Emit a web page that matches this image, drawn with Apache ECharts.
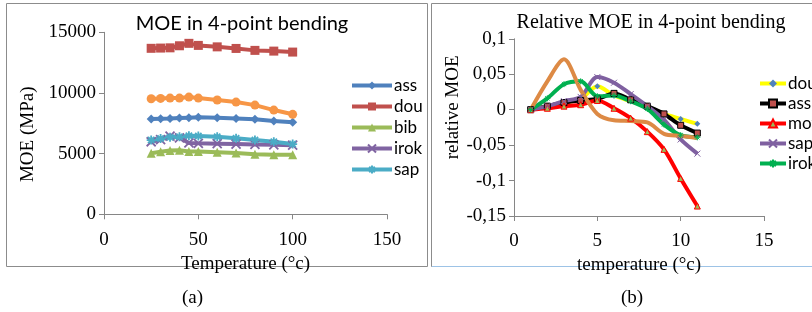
<!DOCTYPE html>
<html>
<head>
<meta charset="utf-8">
<script src="https://cdn.jsdelivr.net/npm/echarts@6/dist/echarts.min.js"></script>
<style>
  html, body { margin: 0; padding: 0; background: #fff; }
  #chart { width: 812px; height: 312px; }
</style>
</head>
<body>
<div id="chart"></div>
<script>
// (a) MOE vs temperature
const tempA = [25, 30, 35, 40, 45, 50, 60, 70, 80, 90, 100]
const assA = [7850, 7880, 7900, 7930, 7960, 7990, 7960, 7900, 7830, 7690, 7580]
const douA = [13680, 13700, 13720, 13890, 14090, 13920, 13800, 13670, 13510, 13450, 13370]
const bibA = [5030, 5150, 5250, 5280, 5180, 5180, 5120, 5050, 4950, 4900, 4900]
const irokA = [5980, 6150, 6450, 6300, 5880, 5850, 5820, 5790, 5760, 5730, 5700]
const sapA = [6120, 6250, 6350, 6390, 6470, 6450, 6390, 6260, 6120, 5980, 5790]
const movA = [9520, 9550, 9580, 9580, 9660, 9580, 9420, 9250, 9000, 8590, 8240]

// (b) relative MOE
const tempB = [1, 2, 3, 4, 5, 6, 7, 8, 9, 10, 11]
const douB = [0, 0.005, 0.01, 0.015, 0.033, 0.02, 0.012, 0.004, -0.006, -0.013, -0.02]
const assB = [0, 0.005, 0.01, 0.013, 0.015, 0.023, 0.014, 0.005, -0.006, -0.022, -0.033]
const movB = [0, 0.002, 0.005, 0.007, 0.013, 0.002, -0.012, -0.031, -0.056, -0.097, -0.136]
const sapB = [0, 0.005, 0.012, 0.018, 0.046, 0.038, 0.022, 0.005, -0.014, -0.042, -0.062]
const irokB = [0, 0.016, 0.036, 0.04, 0.019, 0.02, 0.012, 0.001, -0.021, -0.036, -0.039]
const bibB = [0, 0.04, 0.071, 0.028, -0.006, -0.015, -0.016, -0.018, -0.034, -0.037, -0.04]

const serif = '"Liberation Serif", "DejaVu Serif", serif'
const sans = 'Lato, "Open Sans", sans-serif'
const axisGray = '#868686'

const xMark = 'path://M0,0L10,10M10,0L0,10'
const starMark = 'path://M0,5L10,5M5,0L5,10M1.5,1.5L8.5,8.5M8.5,1.5L1.5,8.5'

// right-hand series get a suffix so the two legends don't share names
const B = ' (b)'

function pairs(xs, ys) {
  return xs.map((x, i) => [x, ys[i]])
}

function lineA(name, ys, color, symbol, stroke) {
  return {
    name: name,
    type: 'line',
    xAxisIndex: 0,
    yAxisIndex: 0,
    data: pairs(tempA, ys),
    symbol: symbol,
    symbolSize: 9,
    lineStyle: { color: color, width: 4 },
    itemStyle: stroke
      ? { color: color, borderColor: color, borderWidth: 1.8 }
      : { color: color },
    animation: false
  }
}

function lineB(name, ys, color, symbol, markColor, stroke) {
  return {
    name: name + B,
    type: 'line',
    xAxisIndex: 1,
    yAxisIndex: 1,
    data: pairs(tempB, ys),
    smooth: 0.3,
    symbol: symbol,
    symbolSize: 6,
    lineStyle: { color: color, width: 4 },
    itemStyle: { color: markColor, borderColor: stroke || markColor, borderWidth: stroke ? 1 : 0 },
    animation: false
  }
}

const chart = echarts.init(document.getElementById('chart'))

const tickLabel = { fontFamily: serif, fontSize: 19, color: '#000' }
const axisName = { fontFamily: serif, fontSize: 19, color: '#000' }

chart.setOption({
  backgroundColor: '#fff',
  title: [
    {
      text: 'MOE in 4-point bending',
      left: 237, top: 9, textAlign: 'center',
      textStyle: { fontFamily: sans, fontSize: 20, fontWeight: 'normal', color: '#000' }
    },
    {
      text: 'Relative MOE in 4-point bending',
      left: 646, top: 8, textAlign: 'center',
      textStyle: { fontFamily: serif, fontSize: 20, fontWeight: 'normal', color: '#000' }
    }
  ],
  legend: [
    {
      data: ['ass', 'dou', 'bib', 'irok', 'sap'],
      orient: 'vertical', left: 345, top: 72,
      itemWidth: 40, itemHeight: 10, itemGap: 4,
      lineStyle: { width: 4 },
      textStyle: { fontFamily: sans, fontSize: 17, color: '#000', padding: [0, 0, 0, -3] }
    },
    {
      data: ['dou', 'ass', 'mov', 'sap', 'irok'].map(n => n + B),
      formatter: n => n.replace(B, ''),
      orient: 'vertical', left: 753, top: 70,
      itemWidth: 26, itemHeight: 10, itemGap: 3,
      lineStyle: { width: 4 },
      textStyle: { fontFamily: sans, fontSize: 17, color: '#000', padding: [0, 0, 0, -3] }
    }
  ],
  grid: [
    { left: 104, top: 32.3, width: 283, height: 182 },
    { left: 514, top: 38.8, width: 250, height: 177.2 }
  ],
  xAxis: [
    {
      gridIndex: 0, type: 'value', min: 0, max: 150, interval: 50,
      name: 'Temperature (°c)', nameLocation: 'middle', nameGap: 26,
      nameTextStyle: axisName,
      axisLine: { onZero: false, lineStyle: { color: axisGray } },
      axisTick: { length: 5, lineStyle: { color: axisGray } },
      axisLabel: Object.assign({ margin: 16 }, tickLabel),
      splitLine: { show: false }
    },
    {
      gridIndex: 1, type: 'value', min: 0, max: 15, interval: 5,
      name: 'temperature (°c)', nameLocation: 'middle', nameGap: 21,
      nameTextStyle: axisName,
      axisLine: { onZero: false, lineStyle: { color: axisGray } },
      axisTick: { length: 5, lineStyle: { color: axisGray } },
      axisLabel: Object.assign({ margin: 16 }, tickLabel),
      splitLine: { show: false }
    }
  ],
  yAxis: [
    {
      gridIndex: 0, type: 'value', min: 0, max: 15000, interval: 5000,
      name: 'MOE (MPa)', nameLocation: 'middle', nameGap: 66,
      nameTextStyle: Object.assign({ padding: [0, 22, 0, 0] }, axisName),
      axisLine: { show: true, onZero: false, lineStyle: { color: axisGray } },
      axisTick: { show: true, length: 5, lineStyle: { color: axisGray } },
      axisLabel: Object.assign({ margin: 8, formatter: v => String(v) }, tickLabel),
      splitLine: { show: false }
    },
    {
      gridIndex: 1, type: 'value', min: -0.15, max: 0.1, interval: 0.05,
      name: 'relative MOE', nameLocation: 'middle', nameGap: 40,
      nameTextStyle: Object.assign({ padding: [0, 0, 0, 40] }, axisName),
      axisLine: { show: true, onZero: false, lineStyle: { color: axisGray } },
      axisTick: { show: true, length: 5, lineStyle: { color: axisGray } },
      axisLabel: Object.assign({
        margin: 8,
        formatter: v => String(+v.toFixed(2)).replace('.', ',')
      }, tickLabel),
      splitLine: { show: false }
    }
  ],
  series: [
    lineA('ass', assA, '#4F81BD', 'diamond'),
    lineA('dou', douA, '#C0504D', 'rect'),
    lineA('bib', bibA, '#9BBB59', 'triangle'),
    lineA('irok', irokA, '#8064A2', xMark, true),
    lineA('sap', sapA, '#4BACC6', starMark, true),
    lineA('mov', movA, '#F79646', 'circle'),

    lineB('dou', douB, '#FFFF00', 'diamond', '#4F81BD'),
    lineB('ass', assB, '#000000', 'rect', '#C0504D', '#000000'),
    lineB('mov', movB, '#FF0000', 'triangle', '#9BBB59', '#FF0000'),
    lineB('sap', sapB, '#7F60A0', xMark, '#7F60A0', '#7F60A0'),
    lineB('irok', irokB, '#00B050', starMark, '#00B050', '#00B050'),
    lineB('bib', bibB, '#DD8A45', 'none', '#DD8A45')
  ],
  graphic: [
    {
      type: 'rect', silent: true, z: -1,
      shape: { x: 6.5, y: 3.5, width: 421, height: 263 },
      style: { fill: 'none', stroke: '#8c8c8c', lineWidth: 1 }
    },
    {
      type: 'rect', silent: true, z: -1,
      shape: { x: 431.5, y: 3.5, width: 400, height: 263 },
      style: { fill: 'none', stroke: '#8c8c8c', lineWidth: 1 }
    },
    {
      type: 'line', silent: true,
      shape: { x1: 432, y1: 266.5, x2: 812, y2: 266.5 },
      style: { stroke: '#9dc3e6', lineWidth: 1 }
    },
    {
      type: 'text', left: 182, top: 289,
      style: { text: '(a)', font: '19px ' + serif, fill: '#000' }
    },
    {
      type: 'text', left: 621, top: 289,
      style: { text: '(b)', font: '19px ' + serif, fill: '#000' }
    }
  ]
})
</script>
</body>
</html>
